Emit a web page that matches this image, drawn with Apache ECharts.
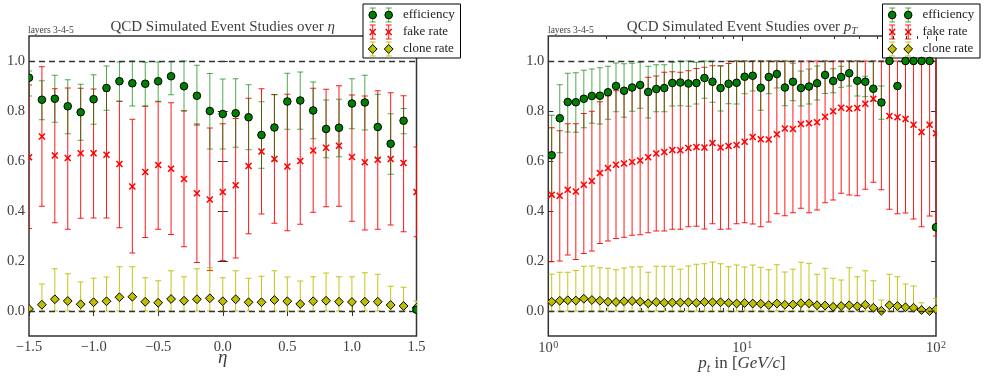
<!DOCTYPE html>
<html>
<head>
<meta charset="utf-8">
<script src="https://cdn.jsdelivr.net/npm/echarts@6/dist/echarts.min.js"></script>
<style>
  html, body { margin: 0; padding: 0; background: #fff; }
  #chart { width: 985px; height: 383px; }
</style>
</head>
<body>
<div id="chart"></div>
<script>
// ---- eta panel ----
const etaBins = [-1.5, -1.4, -1.3, -1.2, -1.1, -1.0, -0.9, -0.8, -0.7, -0.6, -0.5, -0.4, -0.3, -0.2, -0.1, 0.0,
  0.1, 0.2, 0.3, 0.4, 0.5, 0.6, 0.7, 0.8, 0.9, 1.0, 1.1, 1.2, 1.3, 1.4, 1.5];
const etaEff   = [0.933, 0.845, 0.849, 0.819, 0.795, 0.847, 0.892, 0.919, 0.911, 0.909, 0.919, 0.939, 0.899, 0.861, 0.800, 0.788,
  0.791, 0.775, 0.704, 0.734, 0.838, 0.842, 0.802, 0.728, 0.733, 0.830, 0.834, 0.736, 0.669, 0.761, 0.005];
const etaEffLo = [0.860, 0.765, 0.755, 0.709, 0.683, 0.747, 0.803, 0.839, 0.820, 0.820, 0.839, 0.865, 0.800, 0.743, 0.648, 0.648,
  0.655, 0.645, 0.571, 0.601, 0.727, 0.727, 0.689, 0.613, 0.617, 0.729, 0.724, 0.611, 0.547, 0.709, 0.005];
const etaEffHi = [0.960, 0.921, 0.943, 0.925, 0.907, 0.945, 0.980, 0.996, 1.000, 0.995, 0.996, 0.997, 1.000, 0.983, 0.950, 0.928,
  0.929, 0.905, 0.837, 0.865, 0.951, 0.956, 0.916, 0.844, 0.847, 0.929, 0.943, 0.867, 0.789, 0.810, 0.005];
const etaFake   = [0.615, 0.698, 0.622, 0.612, 0.631, 0.631, 0.625, 0.588, 0.498, 0.556, 0.584, 0.569, 0.528, 0.471, 0.446, 0.476,
  0.503, 0.580, 0.638, 0.608, 0.578, 0.600, 0.642, 0.653, 0.661, 0.616, 0.595, 0.605, 0.608, 0.592, 0.476];
const etaFakeLo = [0.330, 0.419, 0.353, 0.327, 0.371, 0.372, 0.372, 0.333, 0.232, 0.294, 0.327, 0.306, 0.257, 0.194, 0.162, 0.202,
  0.212, 0.309, 0.388, 0.351, 0.321, 0.347, 0.395, 0.417, 0.419, 0.359, 0.324, 0.327, 0.344, 0.317, 0.297];
const etaFakeHi = [0.904, 0.977, 0.889, 0.892, 0.891, 0.888, 0.880, 0.839, 0.767, 0.819, 0.837, 0.833, 0.801, 0.748, 0.732, 0.749,
  0.770, 0.851, 0.889, 0.866, 0.867, 0.852, 0.891, 0.887, 0.901, 0.864, 0.860, 0.881, 0.873, 0.861, 0.656];
const etaClone   = [0.008, 0.025, 0.047, 0.040, 0.027, 0.035, 0.039, 0.055, 0.057, 0.037, 0.033, 0.048, 0.041, 0.047, 0.051, 0.039,
  0.047, 0.035, 0.035, 0.044, 0.039, 0.028, 0.039, 0.041, 0.037, 0.036, 0.037, 0.037, 0.024, 0.020, 0.013];
const etaCloneLo = [0, 0, 0, 0, 0, 0, 0, 0, 0, 0, 0, 0, 0, 0, 0, 0, 0, 0, 0, 0, 0, 0, 0, 0, 0, 0, 0, 0, 0, 0, 0];
const etaCloneHi = [0.012, 0.108, 0.169, 0.149, 0.116, 0.131, 0.136, 0.177, 0.177, 0.133, 0.121, 0.161, 0.137, 0.169, 0.173, 0.133,
  0.161, 0.131, 0.139, 0.161, 0.136, 0.120, 0.137, 0.152, 0.137, 0.137, 0.153, 0.147, 0.099, 0.095, 0.040];

// ---- pT panel ----
const ptBins = [1.041, 1.146, 1.260, 1.387, 1.525, 1.678, 1.846, 2.032, 2.235, 2.459, 2.706, 2.977, 3.275, 3.604, 3.965, 4.362,
  4.799, 5.281, 5.808, 6.391, 7.032, 7.737, 8.513, 9.365, 10.30, 11.34, 12.47, 13.72, 15.10, 16.61, 18.28, 20.11,
  22.13, 24.34, 26.78, 29.47, 32.42, 35.67, 39.25, 43.18, 47.51, 52.27, 57.51, 63.27, 69.61, 76.59, 84.27, 92.71, 100];
const ptEff   = [0.623, 0.771, 0.836, 0.835, 0.849, 0.860, 0.861, 0.875, 0.900, 0.881, 0.894, 0.904, 0.876, 0.888, 0.892, 0.912,
  0.914, 0.910, 0.912, 0.932, 0.917, 0.892, 0.909, 0.913, 0.937, 0.941, 0.893, 0.936, 0.948, 0.894, 0.917, 0.892,
  0.898, 0.911, 0.944, 0.920, 0.936, 0.951, 0.921, 0.917, 0.889, 0.834, 1.000, 0.900, 1.000, 1.000, 1.000, 1.000, 0.335];
const ptEffLo = [0.461, 0.633, 0.716, 0.715, 0.733, 0.751, 0.748, 0.767, 0.797, 0.775, 0.799, 0.811, 0.772, 0.797, 0.797, 0.820,
  0.821, 0.819, 0.828, 0.851, 0.835, 0.800, 0.829, 0.828, 0.869, 0.880, 0.803, 0.869, 0.892, 0.821, 0.841, 0.820,
  0.828, 0.844, 0.870, 0.873, 0.895, 0.900, 0.860, 0.857, 0.840, 0.767, 1.000, 0.900, 1.000, 1.000, 1.000, 1.000, 0.335];
const ptEffHi = [0.783, 0.905, 0.951, 0.953, 0.963, 0.968, 0.973, 0.979, 0.992, 0.989, 0.991, 0.995, 0.979, 0.985, 0.985, 0.995,
  1.000, 1.000, 0.995, 1.000, 1.000, 0.980, 1.000, 1.000, 1.000, 1.000, 1.000, 1.000, 1.000, 1.000, 0.991, 0.960,
  0.968, 0.980, 1.000, 0.969, 0.979, 1.000, 1.000, 0.939, 1.000, 0.900, 1.000, 0.900, 1.000, 1.000, 1.000, 1.000, 0.335];
const ptFake   = [0.465, 0.461, 0.485, 0.478, 0.505, 0.520, 0.552, 0.572, 0.585, 0.590, 0.596, 0.602, 0.615, 0.630, 0.636, 0.644,
  0.643, 0.652, 0.656, 0.654, 0.672, 0.654, 0.660, 0.664, 0.677, 0.696, 0.687, 0.686, 0.707, 0.730, 0.728, 0.748,
  0.751, 0.755, 0.777, 0.799, 0.813, 0.809, 0.812, 0.829, 0.849, 0.835, 0.780, 0.775, 0.768, 0.745, 0.716, 0.745, 0.711];
const ptFakeLo = [0.197, 0.200, 0.224, 0.206, 0.230, 0.240, 0.270, 0.280, 0.290, 0.295, 0.303, 0.305, 0.313, 0.320, 0.320, 0.327,
  0.327, 0.337, 0.339, 0.328, 0.349, 0.327, 0.328, 0.349, 0.353, 0.348, 0.337, 0.356, 0.389, 0.381, 0.393, 0.411,
  0.393, 0.404, 0.433, 0.444, 0.471, 0.464, 0.461, 0.487, 0.515, 0.485, 0.407, 0.389, 0.392, 0.368, 0.337, 0.380, 0.300];
const ptFakeHi = [0.733, 0.721, 0.749, 0.749, 0.790, 0.799, 0.837, 0.861, 0.881, 0.890, 0.900, 0.910, 0.935, 0.940, 0.955, 0.957,
  0.955, 0.961, 0.970, 0.975, 0.981, 0.981, 0.990, 1.000, 1.000, 1.000, 1.000, 1.000, 1.000, 1.000, 1.000, 1.000,
  1.000, 1.000, 1.000, 1.000, 1.000, 1.000, 1.000, 1.000, 1.000, 1.000, 1.000, 1.000, 1.000, 1.000, 1.000, 1.000, 1.000];
const ptClone   = [0.037, 0.041, 0.043, 0.042, 0.049, 0.044, 0.041, 0.037, 0.036, 0.039, 0.040, 0.037, 0.031, 0.036, 0.033, 0.034,
  0.034, 0.035, 0.033, 0.036, 0.035, 0.035, 0.033, 0.030, 0.032, 0.030, 0.029, 0.024, 0.030, 0.025, 0.026, 0.031,
  0.031, 0.023, 0.022, 0.017, 0.020, 0.023, 0.019, 0.025, 0.013, 0.001, 0.023, 0.020, 0.015, 0.013, 0.004, 0.000, 0.007];
const ptCloneLo = [0, 0, 0, 0, 0, 0, 0, 0, 0, 0, 0, 0, 0, 0, 0, 0, 0, 0, 0, 0, 0, 0, 0, 0, 0, 0, 0, 0, 0, 0, 0, 0,
  0, 0, 0, 0, 0, 0, 0, 0, 0, 0, 0, 0, 0, 0, 0, 0, 0];
const ptCloneHi = [0.147, 0.155, 0.155, 0.162, 0.179, 0.180, 0.173, 0.171, 0.165, 0.172, 0.176, 0.177, 0.155, 0.179, 0.179, 0.179,
  0.167, 0.180, 0.187, 0.189, 0.196, 0.189, 0.177, 0.184, 0.176, 0.184, 0.175, 0.165, 0.185, 0.156, 0.167, 0.195,
  0.191, 0.147, 0.171, 0.131, 0.124, 0.173, 0.137, 0.161, 0.121, 0.044, 0.147, 0.137, 0.108, 0.100, 0.033, 0.000, 0.050];

// ---- tick labels ----
const etaTicks = [-1.5, -1.0, -0.5, 0.0, 0.5, 1.0, 1.5];
const rateTicks = [0.0, 0.2, 0.4, 0.6, 0.8, 1.0];
const ptTicks = [1, 10, 100];
const ptMinorTicks = [2, 3, 4, 5, 6, 7, 8, 9, 20, 30, 40, 50, 60, 70, 80, 90];
const seriesNames = ['efficiency', 'fake rate', 'clone rate'];

// ---- styling ----
const SERIF = '"Liberation Serif", "DejaVu Serif", serif';
const C_EFF = '#008000', C_FAKE = '#ff0000', C_CLONE = '#bfbf00';
const TXT = '#404040';
const grids = [
  { left: 29, top: 36, width: 387.5, height: 300 },
  { left: 548.3, top: 36, width: 387.7, height: 300 }
];
// error bar colour, opacity and stacking (green drawn over red so overlaps read as olive)
const barStyle = [
  { color: C_EFF, opacity: 0.68, z: 2.2 },
  { color: C_FAKE, opacity: 0.9, z: 2.1 },
  { color: C_CLONE, opacity: 0.9, z: 2.3 }
];

function rows(xs, v, lo, hi) {
  return xs.map((x, i) => [x, v[i], lo[i], hi[i]]);
}

function errorBars(color, opacity) {
  return function (params, api) {
    const x = api.value(0), lo = api.value(2), hi = api.value(3);
    if (!(hi > lo)) return null;
    const a = api.coord([x, hi]);
    const b = api.coord([x, lo]);
    const cap = 3;
    const st = { stroke: color, lineWidth: 1, opacity: opacity };
    return {
      type: 'group',
      children: [
        { type: 'line', shape: { x1: a[0], y1: a[1], x2: b[0], y2: b[1] }, style: st },
        { type: 'line', shape: { x1: a[0] - cap, y1: a[1], x2: a[0] + cap, y2: a[1] }, style: st },
        { type: 'line', shape: { x1: b[0] - cap, y1: b[1], x2: b[0] + cap, y2: b[1] }, style: st }
      ]
    };
  };
}

function circleShape(x, y) {
  return { type: 'circle', shape: { cx: x, cy: y, r: 3.8 }, style: { fill: C_EFF, stroke: '#000', lineWidth: 1 } };
}
function crossShape(x, y) {
  const h = 3;
  const st = { stroke: C_FAKE, lineWidth: 1.6 };
  return { type: 'group', children: [
    { type: 'line', shape: { x1: x - h, y1: y - h, x2: x + h, y2: y + h }, style: st },
    { type: 'line', shape: { x1: x - h, y1: y + h, x2: x + h, y2: y - h }, style: st }
  ] };
}
function diamondShape(x, y) {
  const h = 4.4;
  return { type: 'polygon', shape: { points: [[x, y - h], [x + h, y], [x, y + h], [x - h, y]] },
    style: { fill: C_CLONE, stroke: '#000', lineWidth: 1 } };
}
function markers(shapeFn) {
  return function (params, api) {
    const p = api.coord([api.value(0), api.value(1)]);
    return shapeFn(p[0], p[1]);
  };
}

function panelSeries(gi, xs, sets) {
  const out = [];
  const shapes = [circleShape, crossShape, diamondShape];
  const zs = [6, 5, 4];
  sets.forEach((s, k) => {
    const data = rows(xs, s[0], s[1], s[2]);
    const bar = {
      name: seriesNames[k], type: 'custom', xAxisIndex: gi === 0 ? 0 : 2, yAxisIndex: gi === 0 ? 0 : 2,
      clip: true, z: barStyle[k].z, renderItem: errorBars(barStyle[k].color, barStyle[k].opacity), data: data,
      encode: { x: 0, y: [1, 2, 3] }, silent: true
    };
    if (k === 1) {
      bar.markLine = {
        silent: true, symbol: 'none', label: { show: false }, animation: false,
        lineStyle: { type: [6, 4], color: '#333', width: 1.3 },
        data: [{ yAxis: 1 }, { yAxis: 0 }]
      };
    }
    out.push(bar);
    out.push({
      name: seriesNames[k], type: 'custom', xAxisIndex: gi === 0 ? 0 : 2, yAxisIndex: gi === 0 ? 0 : 2,
      clip: true, z: zs[k], renderItem: markers(shapes[k]), data: data,
      encode: { x: 0, y: 1 }, silent: true
    });
  });
  return out;
}

const tickStyle = { show: true, inside: true, length: 5, lineStyle: { color: '#333', width: 1 } };
const minorTickStyle = { show: true, inside: true, length: 3, lineStyle: { color: '#333', width: 1 } };

function etaXAxis(pos, labels) {
  return {
    type: 'value', gridIndex: 0, position: pos, min: -1.5, max: 1.5, interval: 0.5,
    axisLine: { show: false }, splitLine: { show: false },
    axisTick: tickStyle,
    axisLabel: labels ? {
      show: true, margin: 4, color: TXT, fontFamily: SERIF, fontSize: 14.5,
      formatter: v => v.toFixed(1).replace('-', '\u2212')
    } : { show: false }
  };
}
function ptXAxis(pos, major, labels) {
  return {
    type: 'log', logBase: 10, gridIndex: 1, position: pos, min: 1, max: 100,
    axisLine: { show: false }, splitLine: { show: false },
    axisTick: Object.assign({}, major ? tickStyle : minorTickStyle, { customValues: major ? ptTicks : ptMinorTicks }),
    axisLabel: labels ? {
      show: true, margin: 4, color: TXT, fontFamily: SERIF, customValues: ptTicks,
      formatter: v => '{b|10}{s|' + Math.round(Math.log10(v)) + '}',
      rich: {
        b: { fontSize: 14.5, fontFamily: SERIF, color: TXT, lineHeight: 16, verticalAlign: 'bottom' },
        s: { fontSize: 10, fontFamily: SERIF, color: TXT, lineHeight: 10, verticalAlign: 'top', padding: [0, 0, 0, 0.5] }
      }
    } : { show: false }
  };
}
function rateYAxis(gi, pos, labels) {
  return {
    type: 'value', gridIndex: gi, position: pos, min: -0.1, max: 1.1,
    axisLine: { show: false }, splitLine: { show: false },
    axisTick: Object.assign({}, tickStyle, { customValues: rateTicks }),
    axisLabel: labels ? {
      show: true, margin: 4, color: TXT, fontFamily: SERIF, fontSize: 14.5, customValues: rateTicks,
      formatter: v => v.toFixed(1)
    } : { show: false }
  };
}

function legendGraphic(x0, y0) {
  const w = 97.5, h = 54;
  const rowsY = [11, 28, 45];
  const mx = [9.7, 25.7];
  const els = [{ type: 'rect', shape: { x: 0, y: 0, width: w, height: h }, style: { fill: '#fff', stroke: '#000', lineWidth: 1 } }];
  const shapes = [circleShape, crossShape, diamondShape];
  rowsY.forEach((ry, k) => {
    mx.forEach(x => {
      const st = { stroke: barStyle[k].color, lineWidth: 1, opacity: barStyle[k].opacity };
      els.push({ type: 'line', shape: { x1: x, y1: ry - 7, x2: x, y2: ry + 7 }, style: st });
      els.push({ type: 'line', shape: { x1: x - 3, y1: ry - 7, x2: x + 3, y2: ry - 7 }, style: st });
      els.push({ type: 'line', shape: { x1: x - 3, y1: ry + 7, x2: x + 3, y2: ry + 7 }, style: st });
      els.push(shapes[k](x, ry));
    });
    els.push({ type: 'text', style: { x: 40, y: ry, text: seriesNames[k], fill: '#222', fontFamily: SERIF, fontSize: 13, verticalAlign: 'middle', align: 'left' } });
  });
  return { type: 'group', x: x0, y: y0, z: 100, children: els };
}

function titleRich(extra) {
  const base = { fontFamily: SERIF, fontSize: 15, fill: TXT, lineHeight: 18, verticalAlign: 'bottom', padding: [0, 0, 2, 0] };
  return Object.assign({ n: base, i: Object.assign({}, base, { fontStyle: 'italic' }) }, extra || {});
}

const chart = echarts.init(document.getElementById('chart'), null, { renderer: 'canvas' });
chart.setOption({
  animation: false,
  backgroundColor: '#fff',
  grid: grids.map(g => Object.assign({ show: true, borderColor: '#333', borderWidth: 1.5, backgroundColor: 'transparent', containLabel: false }, g)),
  xAxis: [
    etaXAxis('bottom', true), etaXAxis('top', false),
    ptXAxis('bottom', true, true), ptXAxis('bottom', false, false),
    ptXAxis('top', true, false), ptXAxis('top', false, false)
  ],
  yAxis: [
    rateYAxis(0, 'left', true), rateYAxis(0, 'right', false),
    rateYAxis(1, 'left', true), rateYAxis(1, 'right', false)
  ],
  series: [].concat(
    panelSeries(0, etaBins, [[etaEff, etaEffLo, etaEffHi], [etaFake, etaFakeLo, etaFakeHi], [etaClone, etaCloneLo, etaCloneHi]]),
    panelSeries(1, ptBins, [[ptEff, ptEffLo, ptEffHi], [ptFake, ptFakeLo, ptFakeHi], [ptClone, ptCloneLo, ptCloneHi]])
  ),
  graphic: [
    { type: 'text', z: 50, style: { x: 28, y: 35, text: 'layers 3-4-5', fill: TXT, fontFamily: SERIF, fontSize: 9.5, verticalAlign: 'bottom', align: 'left' } },
    { type: 'text', z: 50, style: { x: 548, y: 35, text: 'layers 3-4-5', fill: TXT, fontFamily: SERIF, fontSize: 9.5, verticalAlign: 'bottom', align: 'left' } },
    { type: 'text', z: 50, style: {
      x: 222.7, y: 37, align: 'center', verticalAlign: 'bottom',
      text: '{n|QCD Simulated Event Studies over }{i|\u03b7}',
      rich: titleRich() } },
    { type: 'text', z: 50, style: {
      x: 742, y: 37, align: 'center', verticalAlign: 'bottom',
      text: '{n|QCD Simulated Event Studies over }{i|p}{s|T}',
      rich: titleRich({ s: { fontFamily: SERIF, fontSize: 10.5, fontStyle: 'italic', fill: TXT, lineHeight: 12, verticalAlign: 'bottom' } }) } },
    { type: 'text', z: 50, style: { x: 222.7, y: 358, text: '\u03b7', fill: TXT, fontFamily: SERIF, fontSize: 19, fontStyle: 'italic', align: 'center', verticalAlign: 'middle' } },
    { type: 'text', z: 50, style: {
      x: 742, y: 375, align: 'center', verticalAlign: 'bottom',
      text: '{i|p}{s|t}{n| in [}{i|GeV/c}{n|]}',
      rich: {
        n: { fontFamily: SERIF, fontSize: 17, fill: TXT, lineHeight: 20, verticalAlign: 'bottom', padding: [0, 0, 3, 0] },
        i: { fontFamily: SERIF, fontSize: 17, fontStyle: 'italic', fill: TXT, lineHeight: 20, verticalAlign: 'bottom', padding: [0, 0, 3, 0] },
        s: { fontFamily: SERIF, fontSize: 12, fontStyle: 'italic', fill: TXT, lineHeight: 14, verticalAlign: 'bottom' }
      } } },
    legendGraphic(363, 4),
    legendGraphic(882.5, 4)
  ]
});
</script>
</body>
</html>
